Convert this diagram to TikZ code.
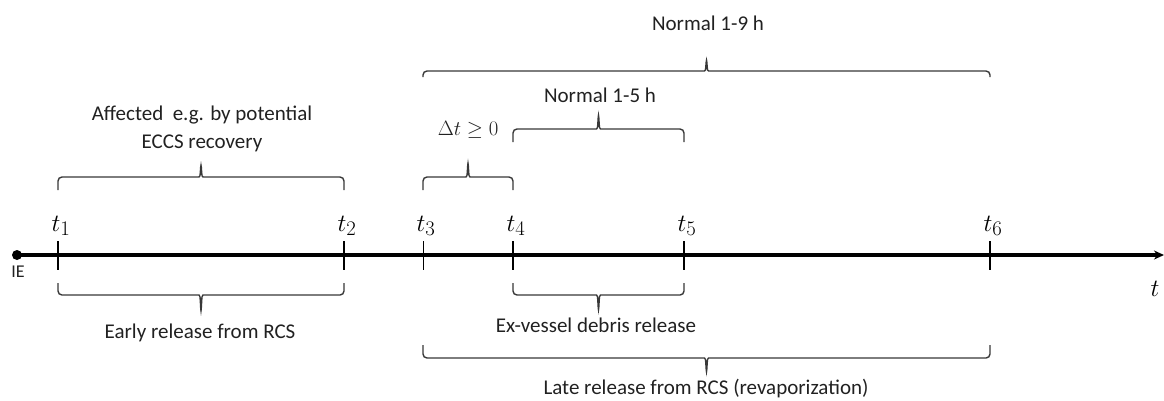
\documentclass[tikz,border=0pt]{standalone}
\usepackage{fontspec}
\setmainfont{Carlito}
\usetikzlibrary{calc,arrows.meta}
\definecolor{bracegray}{rgb}{0.22,0.22,0.22}
\definecolor{textgray}{rgb}{0.13,0.13,0.13}

% brace between two points: arm offset #3, tip offset #4 (negative = up)
\newcommand{\tbrace}[4]{%
    \coordinate (bm) at ($(#1)!0.5!(#2)$);
    \draw[brc] (#1) -- ($(#1)+(0,#3)$) -- ($(bm)+(-6,#3)$)
        .. controls ($(bm)+(-1,#3)$) .. ($(bm)+(0,#4)$)
        .. controls ($(bm)+(1,#3)$) .. ($(bm)+(6,#3)$)
        -- ($(#2)+(0,#3)$) -- (#2);}

\begin{document}
\begin{tikzpicture}[x=1pt,y=-1pt,
    lbl/.style={font=\fontsize{21}{28}\selectfont, text=textgray, inner sep=0pt},
    tlbl/.style={font=\fontsize{31}{31}\selectfont, anchor=base, inner sep=0pt},
    brc/.style={line width=1.4pt, bracegray, rounded corners=4pt}]
    \useasboundingbox (0,0) rectangle (1164,400);

    % Time axis
    \coordinate (IE) at (17,255);
    \coordinate (tend) at (1164,255);
    \draw[line width=3.3pt, -{Stealth[length=10pt,width=9pt]}] (IE) -- (tend);
    \fill (IE) circle (5pt);
    \node[lbl, font=\fontsize{18}{20}\selectfont] (ie) at (18,272) {IE};
    \node[tlbl, anchor=base] (taxis) at (1155,296) {$t$};

    % Time points and their ticks
    \foreach \n/\x in {1/58,2/344,3/423,4/513,5/684,6/990}{
        \coordinate (t\n) at (\x,255);
        \node[tlbl] (lt\n) at (\x+3,231) {$t_\n$};
    }
    \foreach \n in {1,2,4,5,6}
        \draw[line width=2pt] ($(t\n)+(0,-14)$) -- ($(t\n)+(0,15)$);
    \draw[line width=1pt] ($(t3)+(0,-14)$) -- ($(t3)+(0,15)$);

    % Brace end points
    \foreach \n in {1,...,6}{
        \coordinate (a\n) at ($(t\n)+(0,-65)$);
        \coordinate (b\n) at ($(t\n)+(0,28)$);
    }
    \coordinate (c4) at ($(t4)+(0,-113)$);
    \coordinate (c5) at ($(t5)+(0,-113)$);
    \coordinate (d3) at ($(t3)+(0,-178)$);
    \coordinate (d6) at ($(t6)+(0,-178)$);
    \coordinate (e3) at ($(t3)+(0,90)$);
    \coordinate (e6) at ($(t6)+(0,90)$);

    % Braces above the axis
    \tbrace{a1}{a2}{-13}{-27}
    \tbrace{a3}{a4}{-13}{-29}
    \tbrace{c4}{c5}{-13}{-29}
    \tbrace{d3}{d6}{-6}{-19}

    % Braces below the axis
    \tbrace{b1}{b2}{12}{30}
    \tbrace{b4}{b5}{12}{29}
    \tbrace{e3}{e6}{13}{29}

    % Labels
    \node[lbl, align=center] (affected) at (202,129) {Affected\ \ e.g. by potential\\ECCS recovery};
    \node[lbl] (dt) at (468,130) {$\Delta t \geq 0$};
    \node[lbl] (norm15) at (600,95) {Normal 1-5 h};
    \node[lbl] (norm19) at (708,23) {Normal 1-9 h};
    \node[lbl] (early) at (200,333) {Early release from RCS};
    \node[lbl] (exves) at (596,325) {Ex-vessel debris release};
    \node[lbl] (late) at (706,389) {Late release from RCS (revaporization)};
\end{tikzpicture}
\end{document}
